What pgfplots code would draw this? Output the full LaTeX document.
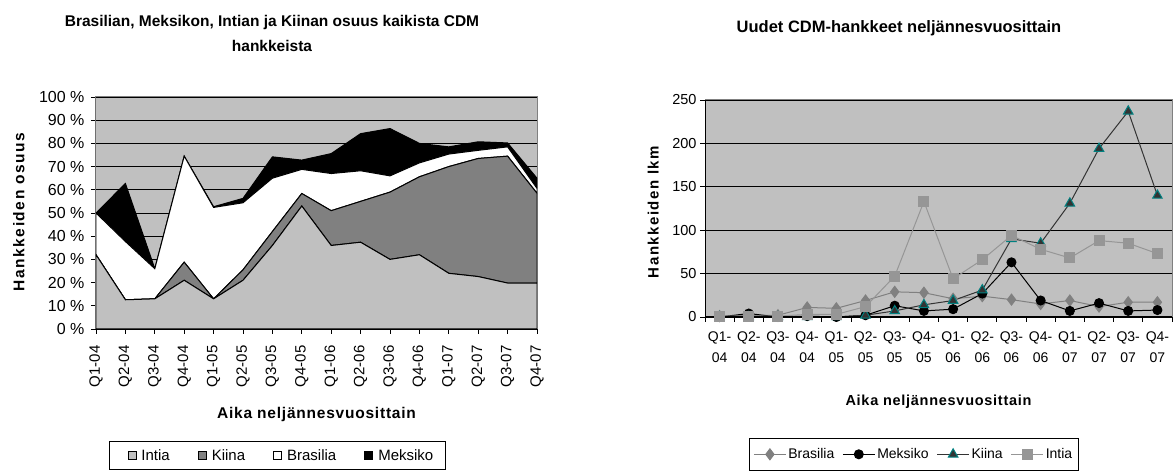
\documentclass[border=0pt]{standalone}
\usepackage{fontspec}
\setmainfont{Liberation Sans}
\usepackage{pgfplots}
\pgfplotsset{compat=1.18}
\newfontfamily\lspy[LetterSpace=10]{Liberation Sans}
\newfontfamily\lspx[LetterSpace=5]{Liberation Sans}
\definecolor{bg}{HTML}{C0C0C0}
\definecolor{cKiina}{HTML}{808080}
\definecolor{cBras}{HTML}{808080}
\definecolor{cIntiaL}{HTML}{969696}
\definecolor{cKiinaL}{HTML}{333333}
\definecolor{cTeal}{HTML}{008080}
\definecolor{cBorder}{HTML}{808080}
\begin{document}
\begin{tikzpicture}
\path[use as bounding box] (0pt,0pt) rectangle (1175pt,473pt);
\clip (0pt,0pt) rectangle (1175pt,473pt);
\node[font=\bfseries\fontsize{15.5}{25}\selectfont, align=center] at (272pt,440pt) {Brasilian, Meksikon, Intian ja Kiinan osuus kaikista CDM\\hankkeista};
\node[font=\bfseries\fontsize{16.5}{18}\selectfont] at (899pt,445pt) {Uudet CDM-hankkeet neljännesvuosittain};

% ---------------- left: stacked area ----------------
\begin{axis}[name=A, at={(96pt,144pt)}, anchor=south west, scale only axis,
  width=441pt, height=232pt,
  xmin=0, xmax=15, ymin=0, ymax=100,
  axis background/.style={fill=bg},
  axis line style={cBorder, line width=1pt},
  tick pos=left, tick align=outside, major tick length=5pt,
  tick style={black, line width=0.8pt},
  xtick={0,...,15},
  xticklabels={Q1-04,Q2-04,Q3-04,Q4-04,Q1-05,Q2-05,Q3-05,Q4-05,Q1-06,Q2-06,Q3-06,Q4-06,Q1-07,Q2-07,Q3-07,Q4-07},
  xticklabel style={rotate=90, anchor=east, font=\fontsize{15}{16}\selectfont},
  xticklabel shift=8pt,
  ytick={0,10,...,100},
  yticklabels={0 \%,10 \%,20 \%,30 \%,40 \%,50 \%,60 \%,70 \%,80 \%,90 \%,100 \%},
  yticklabel style={font=\fontsize{16}{17}\selectfont},
  yticklabel shift=3pt,
  ymajorgrids, grid style={black, line width=0.8pt},
  stack plots=y,
  xlabel={Aika neljännesvuosittain},
  x label style={at={(axis description cs:0.5,-0.37)}, anchor=center, font=\lspx\bfseries\fontsize{15.5}{18}\selectfont},
  ylabel={Hankkeiden osuus},
  y label style={at={(axis description cs:-0.175,0.504)}, anchor=center, font=\lspy\bfseries\fontsize{15.5}{18}\selectfont},
  legend columns=4,
  legend style={at={(axis description cs:0.0295,-0.483)}, anchor=north west, draw=black, line width=0.8pt,
    font=\fontsize{15}{18}\selectfont, inner xsep=10pt, inner ysep=6pt,
    /tikz/every even column/.append style={column sep=18pt}},
  legend image code/.code={\path (0pt,0pt) (19pt,0pt); \draw[#1, draw=black, line width=0.6pt] (8pt,-4pt) rectangle (16pt,4pt);},
]
\addplot[fill=bg, draw=black, line width=1pt] coordinates {
(0,32) (1,12.6) (2,13) (3,21) (4,13) (5,21) (6,36) (7,53) (8,36) (9,37.4) (10,30) (11,32) (12,24) (13,22.6) (14,19.8) (15,19.8)} \closedcycle;
\addplot[fill=cKiina, draw=black, line width=1pt] coordinates {
(0,0) (1,0) (2,0) (3,7.8) (4,0) (5,4.5) (6,6) (7,5.4) (8,15) (9,17.6) (10,29) (11,33.6) (12,46) (13,50.9) (14,54.7) (15,38.7)} \closedcycle;
\addplot[fill=white, draw=black, line width=1pt] coordinates {
(0,18) (1,25.1) (2,13) (3,45.7) (4,39.4) (5,28.9) (6,23) (7,10.4) (8,16) (9,13.2) (10,7) (11,6) (12,5.4) (13,3.5) (14,4) (15,2.1)} \closedcycle;
\addplot[fill=black, draw=black, line width=1pt] coordinates {
(0,0) (1,25) (2,0) (3,0) (4,0.3) (5,1.9) (6,9.2) (7,4) (8,8.6) (9,16) (10,20.4) (11,8.4) (12,3.1) (13,3.7) (14,1.7) (15,4.4)} \closedcycle;
\legend{Intia,Kiina,Brasilia,Meksiko}
\draw[black, line width=1pt] (rel axis cs:0,1) -- (rel axis cs:0,0) -- (rel axis cs:1,0);
\end{axis}

% ---------------- right: lines ----------------
\begin{axis}[name=B, at={(705pt,156pt)}, anchor=south west, scale only axis,
  width=467pt, height=217pt,
  xmin=-0.5, xmax=15.5, ymin=0, ymax=250,
  axis background/.style={fill=bg},
  axis line style={cBorder, line width=1pt},
  tick pos=left, tick align=outside, major tick length=5pt,
  tick style={black, line width=0.8pt},
  /pgf/number format/assume math mode=true,
  xtick={-0.5,0.5,...,15.5},
  x tick label as interval,
  xticklabels={{Q1-\\04},{Q2-\\04},{Q3-\\04},{Q4-\\04},{Q1-\\05},{Q2-\\05},{Q3-\\05},{Q4-\\05},{Q1-\\06},{Q2-\\06},{Q3-\\06},{Q4-\\06},{Q1-\\07},{Q2-\\07},{Q3-\\07},{Q4-\\07}},
  xticklabel style={align=center, font=\fontsize{14}{21}\selectfont},
  xticklabel shift=6pt,
  ytick={0,50,...,250},
  yticklabel style={font=\fontsize{14.5}{16}\selectfont},
  ymajorgrids, grid style={black, line width=0.8pt},
  xlabel={Aika neljännesvuosittain},
  x label style={at={(axis description cs:0.5,-0.392)}, anchor=center, font=\lspx\bfseries\fontsize{14.5}{17}\selectfont},
  ylabel={Hankkeiden lkm},
  y label style={at={(axis description cs:-0.111,0.484)}, anchor=center, font=\lspy\bfseries\fontsize{15}{18}\selectfont},
  legend columns=4,
  legend style={at={(axis description cs:0.0942,-0.558)}, anchor=north west, draw=black, line width=0.8pt,
    font=\fontsize{14}{16}\selectfont, inner xsep=4pt, inner ysep=8pt,
    /tikz/every even column/.append style={column sep=6pt}},
  legend image code/.code={\draw[mark repeat=2,mark phase=2,#1] plot coordinates {(0pt,0pt) (16pt,0pt) (32pt,0pt)};},
]
\addplot[color=cBras, line width=1pt, mark=diamond*, mark size=5.5pt, mark options={fill=cBras, draw=cBras}] coordinates {
(0,1) (1,2) (2,2) (3,11) (4,10) (5,19) (6,29) (7,28) (8,21) (9,24) (10,20) (11,15) (12,19) (13,12) (14,17) (15,17)};
\addplot[color=black, line width=1pt, mark=*, mark size=4.5pt, mark options={fill=black}] coordinates {
(0,0) (1,4) (2,0) (3,1) (4,0) (5,2) (6,13) (7,7) (8,9) (9,27) (10,63) (11,19) (12,7) (13,16) (14,7) (15,8)};
\addplot[color=cKiinaL, line width=1pt, mark=triangle*, mark size=5.5pt, mark options={fill=cKiinaL, draw=cTeal, line width=1pt}] coordinates {
(0,0) (1,0) (2,0) (3,0) (4,0) (5,2) (6,7) (7,14) (8,19) (9,31) (10,90) (11,85) (12,131) (13,194) (14,237) (15,140)};
\addplot[color=cIntiaL, line width=1pt, mark=square*, mark size=5pt, mark options={fill=cIntiaL, draw=cIntiaL}] coordinates {
(0,1) (1,1) (2,1) (3,3) (4,3) (5,12) (6,47) (7,133) (8,44) (9,66) (10,94) (11,78) (12,68) (13,88) (14,85) (15,73)};
\legend{Brasilia,Meksiko,Kiina,Intia}
\draw[black, line width=1pt] (rel axis cs:0,1) -- (rel axis cs:0,0) -- (rel axis cs:1,0);
\end{axis}
\end{tikzpicture}
\end{document}
